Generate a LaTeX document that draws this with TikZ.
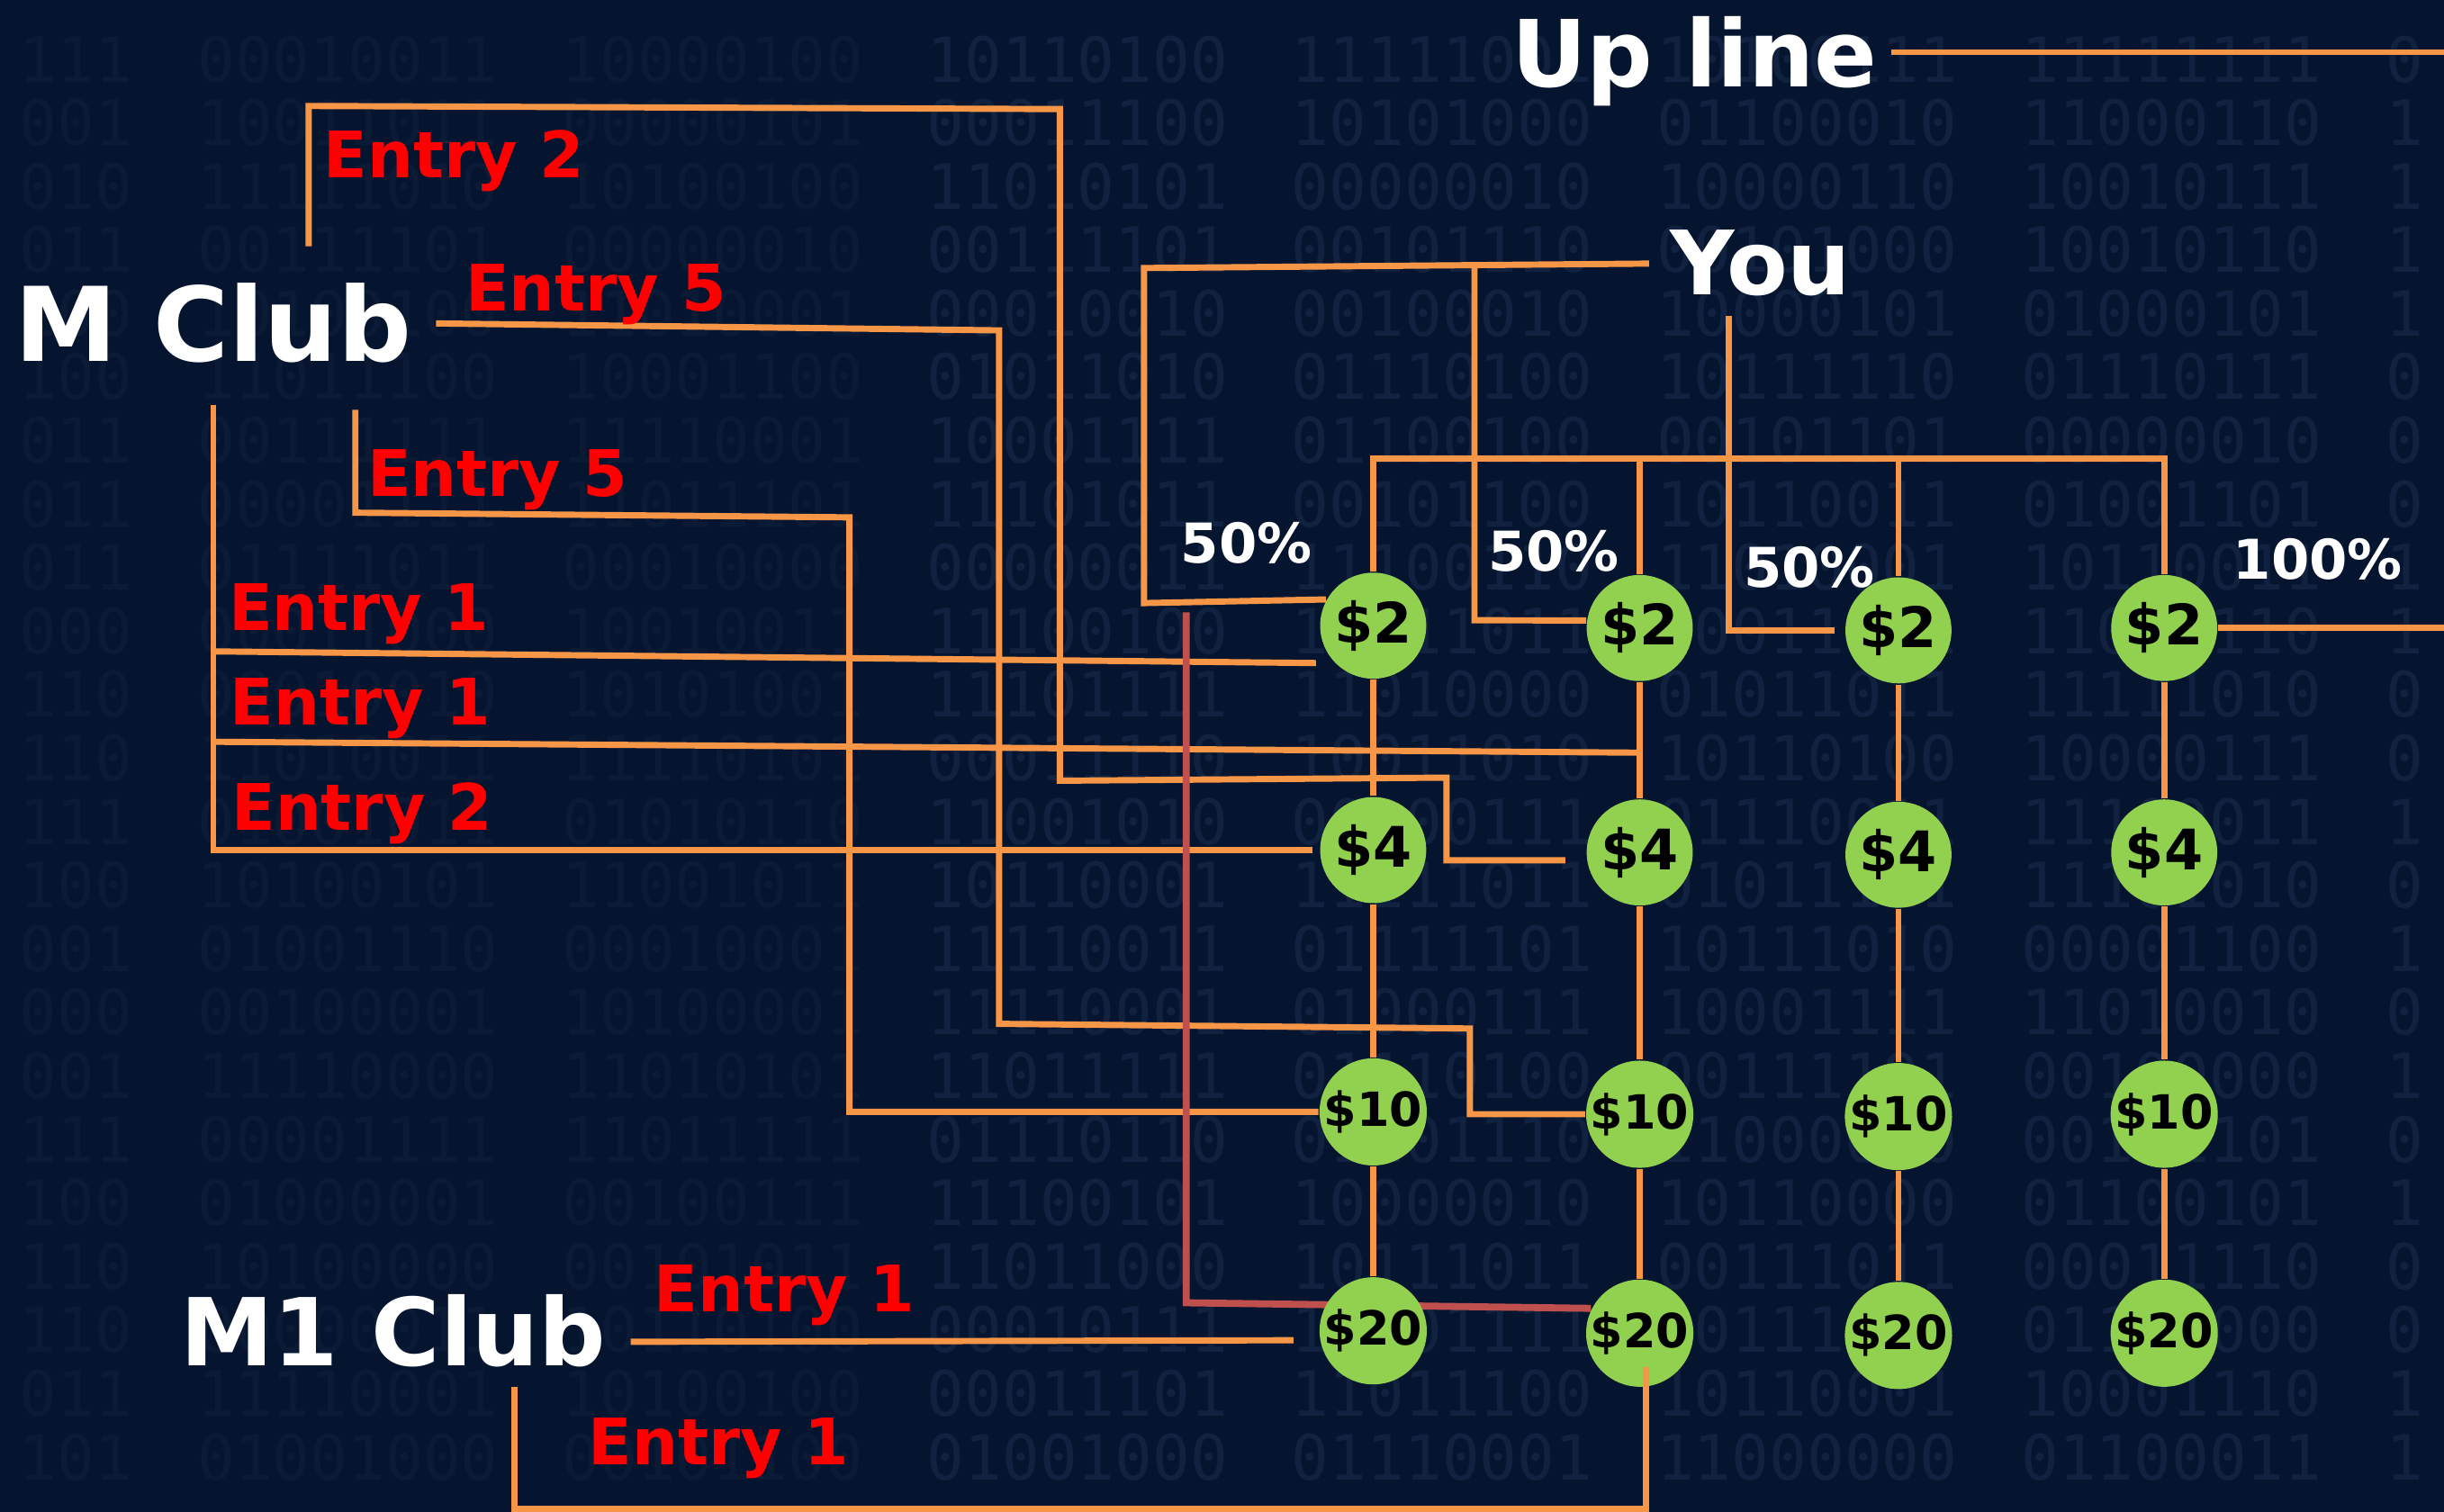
\documentclass[tikz,border=0pt]{standalone}
\usepackage{fontspec}
\usepackage{xcolor}
\setmainfont{DejaVu Sans}
\newfontfamily\bitfont{DejaVu Sans Mono}
\definecolor{boardbgcolor}{HTML}{051530}
\definecolor{bitcolor}{HTML}{10223F}
\definecolor{dimbitcolor}{HTML}{0B1B36}
\definecolor{wirecolor}{HTML}{F79646}
\definecolor{redwirecolor}{HTML}{C0504D}
\definecolor{coincolor}{HTML}{92D050}
\definecolor{entrycolor}{HTML}{FF0000}
\pgfdeclarelayer{board}
\pgfdeclarelayer{wiring}
\pgfsetlayers{board,wiring,main}
\tikzset{
    wire/.style={draw=wirecolor, line width=0.04cm},
    redwire/.style={draw=redwirecolor, line width=0.045cm},
    coin/.style={circle, fill=coincolor, minimum size=0.68cm, inner sep=0pt, text=black},
    title/.style={anchor=base west, inner sep=0pt, text=white},
    entry/.style={anchor=base west, inner sep=0pt, text=entrycolor, font=\bfseries\fontsize{11.7}{14}\selectfont},
    pct/.style={anchor=base west, inner sep=0pt, text=white, font=\bfseries\fontsize{10}{12}\selectfont},
    bits/.style={anchor=west, inner sep=0pt, font=\bitfont\fontsize{11.4}{12}\selectfont},
}
\begin{document}
\begin{tikzpicture}[x=0.01cm, y=-0.01cm]
    \useasboundingbox (0,0) rectangle (1568,970);
    \begin{pgfonlayer}{board}
        \fill[boardbgcolor] (0,0) rectangle (1568,970);
        \pgfmathsetseed{11}
        \foreach \row in {1,...,23}
            \foreach \gx/\n/\shade in {12/3/dimbitcolor,126/8/dimbitcolor,360/8/dimbitcolor,594/8/bitcolor,828/8/bitcolor,1062/8/bitcolor,1296/8/bitcolor,1530/1/bitcolor}
                \node[bits, text=\shade] at (\gx,{-2.8+40.77*\row})
                    {\foreach \k in {1,...,\n}{\pgfmathrandominteger{\bit}{0}{1}\bit}};
    \end{pgfonlayer}

    % labels
    \node[title, font=\bfseries\fontsize{18.8}{22}\selectfont] (mclub) at (9,232) {M Club};
    \node[title, font=\bfseries\fontsize{17.1}{20}\selectfont] (m1club) at (115,876.5) {M1 Club};
    \node[title, font=\bfseries\fontsize{16.9}{20}\selectfont] (upline) at (969,55.7) {Up line};
    \node[title, font=\bfseries\fontsize{16.2}{19}\selectfont] (you) at (1071,189.4) {You};

    \node[entry] (e2top) at (207,114) {Entry 2};
    \node[entry] (e5top) at (298,199.6) {Entry 5};
    \node[entry] (e5low) at (235,318.7) {Entry 5};
    \node[entry] (e1top) at (146,404.4) {Entry 1};
    \node[entry] (e1mid) at (147,465) {Entry 1};
    \node[entry] (e2low) at (148,533) {Entry 2};
    \node[entry] (m1e1top) at (419,841.5) {Entry 1};
    \node[entry] (m1e1low) at (377,940) {Entry 1};

    \node[pct] (pcta) at (757,361.4) {50\%};
    \node[pct] (pctb) at (954,366.6) {50\%};
    \node[pct] (pctc) at (1118,376.8) {50\%};
    \node[pct] (pctd) at (1432,371.9) {100\%};

    % coins: column c, row r
    \foreach \c/\x/\dy in {1/881/0,2/1052/1.5,3/1218/3,4/1388.5/1.5}
        \foreach \r/\amt/\y/\fs in {1/2/401.5/10.2,2/4/545.5/10.2,3/10/713.5/8.6,4/20/854/8.6}
            \node[coin, font=\bfseries\fontsize{\fs}{\fs}\selectfont] (c\c r\r) at (\x,\y+\dy) {\$\amt};

    \coordinate (rimtop) at (1568,33.5);
    \coordinate (rimmid) at (1568,400);
    \coordinate (bus) at (881,294);
    \coordinate (yousplit) at (946,171);
    \coordinate (youfoot) at (1109,203);
    \coordinate (e2foot) at (198,158);
    \coordinate (e5foot) at (228,263);
    \coordinate (m1foot) at (330,890);
    \coordinate (redtop) at (761,393);

    \begin{pgfonlayer}{wiring}
        \draw[wire, shorten <=0.08cm] (upline.east |- rimtop) -- (rimtop);
        \draw[wire] (c4r1.east) -- (c4r1.east -| rimmid);

        \draw[wire, shorten <=0.13cm] (you.west) -- (734,172) -- (734,387) -- (c1r1.151);
        \draw[wire] (yousplit) -- (946,398) -- (c2r1.172);
        \draw[wire, shorten >=0.06cm] (youfoot) |- (c3r1.west);

        \draw[wire] (c1r1.north) -- (c1r1.north |- bus) -- (c4r1.north |- bus) -- (c4r1.north);
        \foreach \c in {2,3}
            \draw[wire] (c\c r1.north) -- (c\c r1.north |- bus);
        \foreach \c in {1,...,4}
            \draw[wire] (c\c r1) -- (c\c r2) -- (c\c r3) -- (c\c r4);

        % M Club
        \draw[wire, shorten >=0.13cm] (e2foot) -- (198,68) -- (680,70) -- (680,501) -- (928,499)
            |- ([yshift=-0.05cm]c2r2.west);
        \draw[wire, shorten <=0.15cm] (mclub.east) -- (641,212) -- (641,657) -- (943,660) |- (c2r3.west);
        \draw[wire] (e5foot) -- (228,329) -- (545,332) |- (c1r3.west);
        \draw[wire, shorten <=0.26cm, shorten >=0.04cm] (mclub.south) -- (mclub.south |- c1r2.west) -- (c1r2.west);
        \draw[wire, shorten >=0.02cm] (mclub.south |- 0,418) -- ([yshift=-0.24cm]c1r1.west);
        \draw[wire] (mclub.south |- 0,476) -- (c2r1.south |- 0,483);

        % M1 Club
        \draw[wire, shorten <=0.15cm, shorten >=0.16cm] ([yshift=-0.07cm]m1club.east) -- ([yshift=-0.06cm]c1r4.west);

        \draw[redwire] (redtop) -- (761,836) -- (c2r4.153);
    \end{pgfonlayer}

    \draw[wire] (m1foot) -- (330,968) -| ([xshift=0.04cm,yshift=-0.22cm]c2r4.center);
\end{tikzpicture}
\end{document}
